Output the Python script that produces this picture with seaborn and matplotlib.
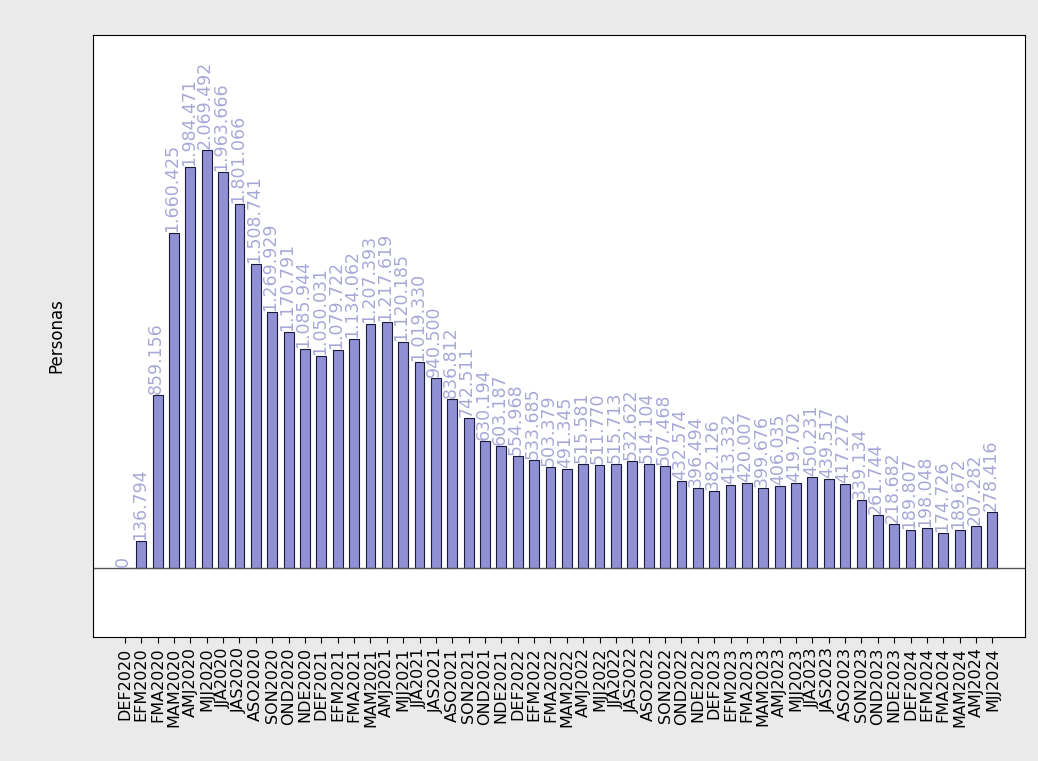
import matplotlib
matplotlib.use("Agg")
import matplotlib.pyplot as plt
import seaborn as sns
import pandas as pd
import numpy as np

years = [2020, 2021, 2022, 2023]
trims = ["DEF", "EFM", "FMA", "MAM", "AMJ", "MJJ", "JJA", "JAS", "ASO", "SON", "OND", "NDE"]
periodos = [t + str(y) for y in years for t in trims] + \
           [t + "2024" for t in ["DEF", "EFM", "FMA", "MAM", "AMJ", "MJJ"]]

personas = [0, 136794, 859156, 1660425, 1984471, 2069492, 1963666, 1801066, 1508741, 1269929,
            1170791, 1085944, 1050031, 1079722, 1134062, 1207393, 1217619, 1120185, 1019330, 940500,
            836812, 742511, 630194, 603187, 554968, 533685, 503379, 491345, 515581, 511770,
            515713, 532622, 514104, 507468, 432574, 396494, 382126, 413332, 420007, 399676,
            406035, 419702, 450231, 439517, 417272, 339134, 261744, 218682, 189807, 198048,
            174726, 189672, 207282, 278416]

df = pd.DataFrame({"periodo": periodos, "personas": personas})

fig = plt.figure(figsize=(10.38, 7.61), dpi=100, facecolor="#eaeaea")
ax = fig.add_axes([0.0896, 0.163, 0.898, 0.791])
ax.set_facecolor("white")

sns.barplot(data=df, x="periodo", y="personas", color="#9090d4", saturation=1,
            edgecolor="#1a1a3a", linewidth=0.8, width=0.6, ax=ax)

for i, v in enumerate(personas):
    txt = f"{v:,}".replace(",", ".")
    ax.text(i - 0.1, v + 5000, txt, rotation=90, ha="center", va="bottom",
            fontsize=12.5, color="#a8a8d8")

ax.axhline(0, color="#555555", linewidth=1)
ax.set_ylim(-340000, 2640000)
ax.set_xlim(-1.95, 55.0)
ax.set_yticks([])
ax.set_ylabel("Personas", fontsize=12, labelpad=20)
ax.set_xlabel("")
ax.tick_params(axis="x", rotation=90, labelsize=11.5, length=4)
for s in ax.spines.values():
    s.set_color("black")
    s.set_linewidth(0.8)

fig.savefig("out.png", dpi=100, facecolor=fig.get_facecolor())
